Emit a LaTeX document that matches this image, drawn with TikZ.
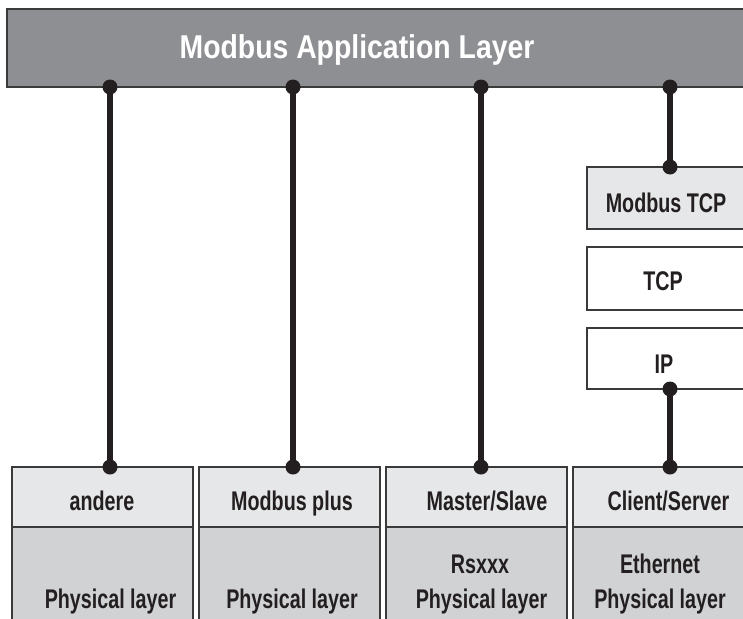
\documentclass[tikz,border=0pt]{standalone}
\usepackage{fontspec}
\newfontfamily\lblfont{Liberation Sans}[FakeStretch=0.73]
\newfontfamily\barfont{Liberation Sans}[FakeStretch=0.86]
\definecolor{bargray}{HTML}{8E8F93}
\definecolor{lightbox}{HTML}{E6E7E8}
\definecolor{physbox}{HTML}{D1D2D4}
\definecolor{edge}{HTML}{3A3A3A}
\definecolor{ink}{HTML}{231F20}
\tikzset{
  box/.style={draw=edge, line width=2pt, inner sep=0pt, outer sep=0pt, rectangle},
  lbl/.style={font=\lblfont\bfseries\fontsize{27}{30}\selectfont, text=ink, anchor=base, inner sep=0pt},
  conn/.style={draw=ink, line width=6pt},
  dot/.style={fill=ink}
}
\begin{document}
\begin{tikzpicture}[x=1pt,y=-1pt]
\useasboundingbox (0,0) rectangle (743,618);
\clip (0,0) rectangle (743,618);

% application layer bar
\node[box, fill=bargray, minimum width=745pt, minimum height=78pt] (app) at (379.5,48) {};
\node[anchor=base, inner sep=0pt, text=white, font=\barfont\bfseries\fontsize{33}{38}\selectfont] (applbl) at (357,58) {Modbus Application Layer};

% TCP/IP stack
\node[box, fill=lightbox, minimum width=165pt, minimum height=62pt] (mtcp) at (669.5,198) {};
\node[lbl] (mtcplbl) at (666,212) {Modbus TCP};
\node[box, fill=white, minimum width=165pt, minimum height=63pt] (tcp) at (669.5,278.5) {};
\node[lbl] (tcplbl) at (663,290) {TCP};
\node[box, fill=white, minimum width=165pt, minimum height=61pt] (ip) at (669.5,358.5) {};
\node[lbl] (iplbl) at (664,373) {IP};

% bottom columns
\foreach \n/\cx/\w in {a/102.5/181, b/289.5/181, c/476.5/181, d/662.5/179}{
  \node[box, fill=lightbox, minimum width=\w pt, minimum height=60pt] (up\n) at (\cx,497) {};
  \node[box, fill=physbox, minimum width=\w pt, minimum height=113pt] (lo\n) at (\cx,583.5) {};
}
\node[lbl] (l1) at (102,510) {andere};
\node[lbl] (l2) at (292,510) {Modbus plus};
\node[lbl] (l3) at (487,510) {Master/Slave};
\node[lbl] (l4) at (668.5,510) {Client/Server};
\node[lbl] (p1) at (110.5,608) {Physical layer};
\node[lbl] (p2) at (292,608) {Physical layer};
\node[lbl] (r3) at (480,573) {Rsxxx};
\node[lbl] (p3) at (481.5,608) {Physical layer};
\node[lbl] (e4) at (660,573) {Ethernet};
\node[lbl] (p4) at (660,608) {Physical layer};

% connector columns
\coordinate (x1) at (110,0);
\coordinate (x2) at (293,0);
\coordinate (x3) at (481,0);
\coordinate (x4) at (670,0);

\draw[conn] (app.south -| x1) -- (upa.north -| x1);
\draw[conn] (app.south -| x2) -- (upb.north -| x2);
\draw[conn] (app.south -| x3) -- (upc.north -| x3);
\draw[conn] (app.south -| x4) -- (mtcp.north -| x4);
\draw[conn] (ip.south -| x4) -- (upd.north -| x4);

\fill[dot] (app.south -| x1) circle (7.5pt);
\fill[dot] (app.south -| x2) circle (7.5pt);
\fill[dot] (app.south -| x3) circle (7.5pt);
\fill[dot] (app.south -| x4) circle (7.5pt);
\fill[dot] (upa.north -| x1) circle (7.5pt);
\fill[dot] (upb.north -| x2) circle (7.5pt);
\fill[dot] (upc.north -| x3) circle (7.5pt);
\fill[dot] (mtcp.north -| x4) circle (7.5pt);
\fill[dot] (ip.south -| x4) circle (7.5pt);
\fill[dot] (upd.north -| x4) circle (7.5pt);
\end{tikzpicture}
\end{document}
